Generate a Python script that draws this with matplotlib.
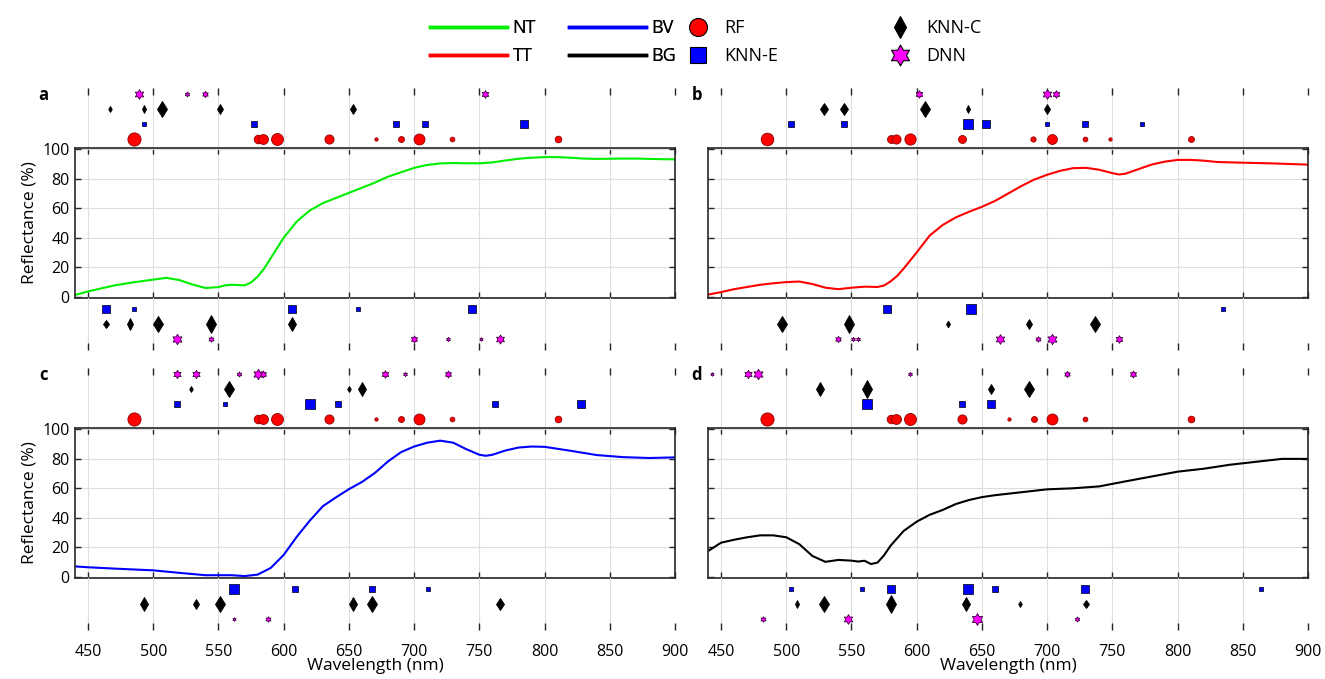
import numpy as np
import matplotlib
matplotlib.use("Agg")
import matplotlib.pyplot as plt
from matplotlib.path import Path
from matplotlib.lines import Line2D

plt.rcParams['font.family'] = ['Open Sans', 'DejaVu Sans']
plt.rcParams['font.size'] = 11.5

# ---- reflectance spectra ----
wl_nt = [440, 450, 460, 470, 480, 490, 500, 510, 520, 530, 540, 550, 555, 560, 565, 570, 575, 580, 585, 590,
         595, 600, 605, 610, 620, 630, 640, 650, 660, 670, 680, 690, 700, 710, 720, 730, 740, 750, 760, 770,
         780, 790, 800, 810, 820, 830, 840, 850, 860, 870, 880, 890, 900]
refl_nt = [1.0, 3.5, 5.5, 7.5, 9.0, 10.3, 11.5, 12.7, 11.2, 8.2, 5.8, 6.4, 7.6, 8.0, 7.8, 7.6, 9.5, 13.5, 19.0, 26.0,
           33.0, 40.0, 45.5, 51.0, 58.5, 63.5, 67.0, 70.5, 74.0, 77.5, 81.5, 84.5, 87.5, 89.5, 90.5, 90.8, 90.6, 90.6, 91.2, 92.5,
           93.7, 94.4, 94.8, 94.8, 94.4, 93.8, 93.6, 93.7, 93.8, 93.8, 93.6, 93.4, 93.3]

wl_tt = [440, 450, 460, 470, 480, 490, 500, 510, 520, 530, 540, 550, 560, 570, 575, 580, 585, 590, 600, 610,
         620, 630, 640, 650, 660, 670, 680, 690, 700, 710, 720, 730, 740, 750, 755, 760, 770, 780, 790, 800,
         810, 820, 830, 850, 870, 900]
refl_tt = [1.3, 3.0, 5.0, 6.5, 8.0, 9.0, 9.8, 10.2, 8.5, 6.0, 5.0, 6.0, 6.7, 6.5, 7.5, 10.3, 14.0, 19.0, 30.0, 41.5,
           48.7, 53.8, 57.6, 61.0, 65.0, 70.0, 75.0, 79.5, 82.8, 85.5, 87.3, 87.5, 86.2, 83.9, 83.0, 83.5, 86.6, 89.7, 91.7, 92.9,
           92.9, 92.4, 91.5, 91.0, 90.6, 89.7]

wl_bv = [440, 450, 470, 500, 520, 540, 560, 570, 580, 590, 600, 610, 620, 630, 640, 650, 660, 670, 680, 690,
         700, 710, 720, 730, 740, 750, 755, 760, 770, 780, 790, 800, 820, 840, 860, 880, 900]
refl_bv = [6.9, 6.3, 5.4, 4.2, 2.5, 0.9, 0.9, 0.3, 1.3, 5.8, 14.7, 27.0, 38.0, 47.8, 53.8, 59.4, 64.3, 70.5, 78.3, 84.6,
           88.4, 91.0, 92.4, 91.0, 86.6, 82.8, 82.1, 82.8, 85.7, 87.7, 88.4, 88.2, 85.5, 82.6, 81.2, 80.6, 81.0]

wl_bg = [440, 450, 460, 470, 480, 490, 500, 510, 520, 530, 540, 550, 555, 560, 565, 570, 575, 580, 590, 600,
         610, 620, 630, 640, 650, 660, 680, 700, 720, 740, 760, 780, 800, 820, 840, 860, 880, 900]
refl_bg = [17.3, 23.0, 25.0, 26.7, 28.0, 28.0, 26.7, 22.0, 14.0, 10.0, 11.3, 10.8, 10.2, 10.7, 8.5, 9.5, 14.5, 21.0, 31.0, 37.3,
           42.0, 45.3, 49.3, 52.0, 54.0, 55.3, 57.3, 59.3, 60.0, 61.3, 64.7, 68.0, 71.3, 73.3, 76.0, 78.0, 80.0, 80.0]

# ---- selected wavelengths (nm) and importance (0-1) per model ----
# panel a, above
a_rf_wl = [485, 580, 584, 595, 635, 671, 690, 704, 729, 810]
a_rf_imp = [0.95, 0.62, 0.71, 0.86, 0.66, 0.24, 0.43, 0.79, 0.34, 0.48]
a_ke_wl = [493, 577, 686, 708, 784]
a_ke_imp = [0.24, 0.38, 0.38, 0.48, 0.62]
a_kc_wl = [467, 493, 507, 551, 653]
a_kc_imp = [0.34, 0.43, 0.91, 0.62, 0.52]
a_dnn_wl = [489, 526, 540, 754]
a_dnn_imp = [0.66, 0.34, 0.43, 0.52]
# panel a, below
a_ke_wl2 = [464, 485, 606, 657, 744]
a_ke_imp2 = [0.62, 0.29, 0.62, 0.34, 0.52]
a_kc_wl2 = [464, 482, 504, 544, 606]
a_kc_imp2 = [0.48, 0.64, 0.93, 1.0, 0.75]
a_dnn_wl2 = [518, 544, 700, 726, 751, 766]
a_dnn_imp2 = [0.71, 0.38, 0.48, 0.29, 0.24, 0.62]

# panel b, above
b_rf_wl = [485, 580, 584, 595, 635, 689, 704, 729, 748, 810]
b_rf_imp = [0.91, 0.57, 0.66, 0.81, 0.57, 0.38, 0.71, 0.34, 0.24, 0.43]
b_ke_wl = [504, 544, 639, 653, 700, 729, 773]
b_ke_imp = [0.43, 0.48, 0.66, 0.57, 0.34, 0.43, 0.24]
b_kc_wl = [529, 544, 606, 639, 700]
b_kc_imp = [0.71, 0.66, 0.96, 0.43, 0.52]
b_dnn_wl = [602, 700, 707]
b_dnn_imp = [0.52, 0.66, 0.52]
# panel b, below
b_ke_wl2 = [577, 642, 835]
b_ke_imp2 = [0.57, 0.71, 0.29]
b_kc_wl2 = [497, 548, 624, 686, 737]
b_kc_imp2 = [0.93, 1.0, 0.38, 0.57, 0.93]
b_dnn_wl2 = [540, 551, 555, 664, 693, 704, 755]
b_dnn_imp2 = [0.43, 0.29, 0.29, 0.66, 0.38, 0.71, 0.52]

# panel c, above
c_rf_wl = [485, 580, 584, 595, 635, 671, 690, 704, 729, 810]
c_rf_imp = [0.95, 0.62, 0.71, 0.86, 0.66, 0.24, 0.43, 0.79, 0.34, 0.48]
c_ke_wl = [518, 555, 620, 642, 762, 828]
c_ke_imp = [0.43, 0.24, 0.66, 0.48, 0.48, 0.57]
c_kc_wl = [529, 558, 650, 660]
c_kc_imp = [0.34, 0.96, 0.34, 0.76]
c_dnn_wl = [518, 533, 566, 580, 584, 678, 693, 726]
c_dnn_imp = [0.57, 0.57, 0.34, 0.71, 0.48, 0.52, 0.29, 0.48]
# panel c, below
c_ke_wl2 = [562, 609, 668, 711]
c_ke_imp2 = [0.66, 0.38, 0.43, 0.29]
c_kc_wl2 = [493, 533, 551, 653, 668, 766]
c_kc_imp2 = [0.81, 0.52, 0.96, 0.76, 0.96, 0.71]
c_dnn_wl2 = [562, 588]
c_dnn_imp2 = [0.24, 0.38]

# panel d, above
d_rf_wl = [485, 580, 584, 595, 635, 671, 690, 704, 729, 810]
d_rf_imp = [0.95, 0.62, 0.71, 0.86, 0.66, 0.24, 0.43, 0.79, 0.34, 0.48]
d_ke_wl = [562, 635, 657]
d_ke_imp = [0.66, 0.43, 0.52]
d_kc_wl = [526, 562, 657, 686]
d_kc_imp = [0.76, 1.0, 0.57, 0.93]
d_dnn_wl = [443, 471, 478, 595, 715, 766]
d_dnn_imp = [0.24, 0.57, 0.71, 0.29, 0.43, 0.48]
# panel d, below
d_ke_wl2 = [504, 558, 580, 639, 660, 729, 864]
d_ke_imp2 = [0.29, 0.29, 0.57, 0.71, 0.43, 0.52, 0.34]
d_kc_wl2 = [508, 529, 580, 638, 679, 730]
d_kc_imp2 = [0.43, 0.93, 1.0, 0.76, 0.34, 0.48]
d_dnn_wl2 = [482, 547, 646, 723]
d_dnn_imp2 = [0.38, 0.66, 0.81, 0.34]

# hexagram marker (like matlab 'h')
ang = np.pi / 2 + np.arange(12) * np.pi / 6
rad = np.where(np.arange(12) % 2 == 0, 1.0, 1 / np.sqrt(3))
pts = np.column_stack([rad * np.cos(ang), rad * np.sin(ang)])
hexagram = Path(np.vstack([pts, pts[:1]]), closed=True)

styles = {
    'RF': dict(marker='o', mfc='#ff0000', mec='#8c0000', k=10.0),
    'KNN-E': dict(marker='s', mfc='#0000ff', mec='#101030', k=10.0),
    'KNN-C': dict(marker='d', mfc='black', mec='black', k=9.0),
    'DNN': dict(marker=hexagram, mfc='#ff00ff', mec='#3a003a', k=10.5),
}

W, H = 1325, 679
fig = plt.figure(figsize=(W / 100, H / 100), dpi=100)

axcol = '#262626'
gridcol = '#dedede'
xt = np.arange(450, 901, 50)


def fx(px):
    return px / W


def fy(py):
    return 1 - py / H


def marks(ax, y, name, wls, imps):
    st = styles[name]
    for w, v in zip(wls, imps):
        ax.plot(w, y, linestyle='none', marker=st['marker'], markersize=v * st['k'],
                markerfacecolor=st['mfc'], markeredgecolor=st['mec'], markeredgewidth=0.6,
                clip_on=False, zorder=3)


def panel(left, top_px, letter, letter_x, wl, refl, color, above, below, ylab, xlab):
    # top marker strip
    ax_t = fig.add_axes([fx(left), fy(top_px + 60), fx(600), 60 / H])
    # main spectrum
    ax_m = fig.add_axes([fx(left), fy(top_px + 210), fx(600), 150 / H])
    # bottom marker strip
    ax_b = fig.add_axes([fx(left), fy(top_px + 262), fx(600), 52 / H])

    for ax in (ax_t, ax_b):
        for s in ax.spines.values():
            s.set_visible(False)
        ax.set_xlim(440, 900)
        ax.set_xticks(xt)
        ax.set_yticks([])
        ax.grid(axis='x', color=gridcol, linewidth=0.8)
        ax.set_axisbelow(True)
        ax.patch.set_alpha(0)
    ax_t.set_ylim(0.4, 4.4)
    ax_t.tick_params(axis='x', direction='in', top=True, bottom=False, labeltop=False,
                     labelbottom=False, length=5, width=1, color=axcol)
    ax_b.set_ylim(3.73, 0.27)
    ax_b.tick_params(axis='x', direction='in', top=False, bottom=True, labelbottom=xlab,
                     length=5, width=1, color=axcol, labelsize=11.5, pad=10)
    if xlab:
        ax_b.set_xlabel('Wavelength (nm)', fontsize=12.5, labelpad=-1)

    rows_t = ['RF', 'KNN-E', 'KNN-C', 'DNN']
    for i, name in enumerate(rows_t):
        marks(ax_t, i + 1, name, above[name][0], above[name][1])
    rows_b = ['KNN-E', 'KNN-C', 'DNN']
    for i, name in enumerate(rows_b):
        marks(ax_b, i + 1, name, below[name][0], below[name][1])

    ax_m.plot(wl, refl, color=color, linewidth=1.5)
    ax_m.set_xlim(440, 900)
    ax_m.set_ylim(-1, 101)
    ax_m.set_xticks(xt)
    ax_m.set_yticks([0, 20, 40, 60, 80, 100])
    ax_m.grid(True, color=gridcol, linewidth=0.8)
    ax_m.set_axisbelow(True)
    ax_m.tick_params(direction='in', top=True, right=True, length=4, width=1, color=axcol,
                     labelbottom=False, labelleft=ylab, labelsize=11.5, pad=4)
    for s in ax_m.spines.values():
        s.set_color(axcol)
        s.set_linewidth(1.2)
    if ylab:
        ax_m.set_ylabel('Reflectance (%)', fontsize=12.5, labelpad=3)
    fig.text(fx(letter_x), fy(top_px + 7), letter, fontsize=12, fontweight='bold',
             ha='center', va='center')


panel(75, 88, 'a', 43, wl_nt, refl_nt, '#00ee00',
      {'RF': (a_rf_wl, a_rf_imp), 'KNN-E': (a_ke_wl, a_ke_imp),
       'KNN-C': (a_kc_wl, a_kc_imp), 'DNN': (a_dnn_wl, a_dnn_imp)},
      {'KNN-E': (a_ke_wl2, a_ke_imp2), 'KNN-C': (a_kc_wl2, a_kc_imp2),
       'DNN': (a_dnn_wl2, a_dnn_imp2)}, True, False)
panel(708, 88, 'b', 697, wl_tt, refl_tt, '#ff0000',
      {'RF': (b_rf_wl, b_rf_imp), 'KNN-E': (b_ke_wl, b_ke_imp),
       'KNN-C': (b_kc_wl, b_kc_imp), 'DNN': (b_dnn_wl, b_dnn_imp)},
      {'KNN-E': (b_ke_wl2, b_ke_imp2), 'KNN-C': (b_kc_wl2, b_kc_imp2),
       'DNN': (b_dnn_wl2, b_dnn_imp2)}, False, False)
panel(75, 368, 'c', 43, wl_bv, refl_bv, '#0000ff',
      {'RF': (c_rf_wl, c_rf_imp), 'KNN-E': (c_ke_wl, c_ke_imp),
       'KNN-C': (c_kc_wl, c_kc_imp), 'DNN': (c_dnn_wl, c_dnn_imp)},
      {'KNN-E': (c_ke_wl2, c_ke_imp2), 'KNN-C': (c_kc_wl2, c_kc_imp2),
       'DNN': (c_dnn_wl2, c_dnn_imp2)}, True, True)
panel(708, 368, 'd', 697, wl_bg, refl_bg, 'black',
      {'RF': (d_rf_wl, d_rf_imp), 'KNN-E': (d_ke_wl, d_ke_imp),
       'KNN-C': (d_kc_wl, d_kc_imp), 'DNN': (d_dnn_wl, d_dnn_imp)},
      {'KNN-E': (d_ke_wl2, d_ke_imp2), 'KNN-C': (d_kc_wl2, d_kc_imp2),
       'DNN': (d_dnn_wl2, d_dnn_imp2)}, False, True)

# legends
line_h = [Line2D([], [], color='#00ee00', lw=2.5), Line2D([], [], color='#ff0000', lw=2.5),
          Line2D([], [], color='#0000ff', lw=2.5), Line2D([], [], color='black', lw=2.5)]
leg1 = fig.legend(line_h, ['NT', 'TT', 'BV', 'BG'], ncol=2, loc='center',
                  bbox_to_anchor=(fx(553), fy(42)), frameon=False, handlelength=4.3,
                  handletextpad=0.3, columnspacing=1.8, labelspacing=0.55, fontsize=13)
mk_h = []
for name, ms in [('RF', 13), ('KNN-E', 11.5), ('KNN-C', 11), ('DNN', 15)]:
    st = styles[name]
    mk_h.append(Line2D([], [], linestyle='none', marker=st['marker'], markersize=ms,
                       markerfacecolor=st['mfc'], markeredgecolor='black', markeredgewidth=0.8))
leg2 = fig.legend(mk_h, ['RF', 'KNN-E', 'KNN-C', 'DNN'], ncol=2, loc='center',
                  bbox_to_anchor=(fx(833), fy(42)), frameon=False, handlelength=1.5,
                  handletextpad=0.7, columnspacing=6.0, labelspacing=0.55, fontsize=13)
fig.add_artist(leg1)

fig.savefig('out.png', dpi=100)
